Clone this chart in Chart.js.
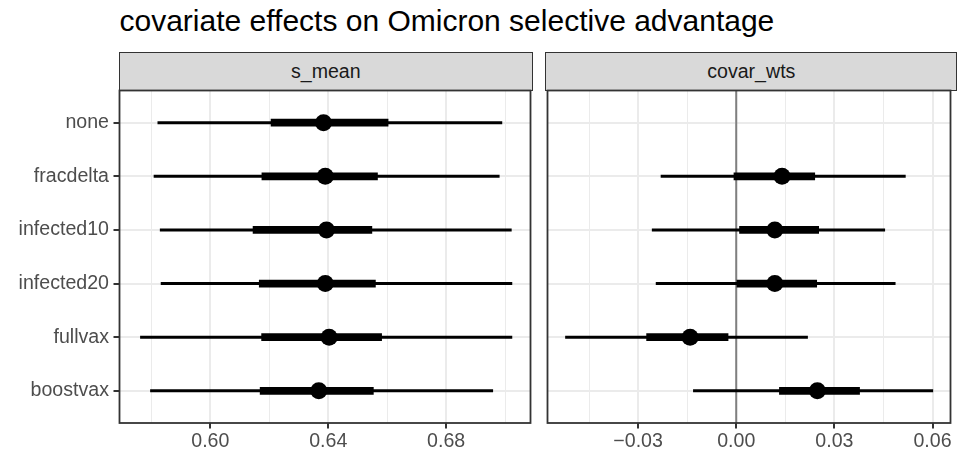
<!DOCTYPE html>
<html>
<head>
<meta charset="utf-8">
<script src="https://cdn.jsdelivr.net/npm/chart.js@4.4.0/dist/chart.umd.min.js"></script>
<style>
    body { margin: 0; background: #fff; font-family: "Liberation Sans", Arial, sans-serif; }
    #wrap { position: relative; width: 959px; height: 454px; overflow: hidden; }
    #titulo { position: absolute; left: 119.5px; top: 5.8px; font-size: 30px; line-height: 1; color: #000; white-space: nowrap; }
    .strip { position: absolute; top: 51.5px; height: 39.5px; background: #d9d9d9; border: 1.5px solid #333; box-sizing: border-box;
             text-align: center; line-height: 36.5px; font-size: 19.6px; color: #1a1a1a; }
    canvas { position: absolute; top: 0; }
</style>
</head>
<body>
<div id="wrap">
    <div id="titulo">covariate effects on Omicron selective advantage</div>
    <div class="strip" style="left:118.8px;width:414px;">s_mean</div>
    <div class="strip" style="left:545.3px;width:412px;">covar_wts</div>
    <canvas id="painelEsq" width="539" height="454" style="left:0"></canvas>
    <canvas id="painelDir" width="420" height="454" style="left:539px"></canvas>
</div>
<script>
// dados
const categorias = ['none', 'fracdelta', 'infected10', 'infected20', 'fullvax', 'boostvax'];

// painel s_mean
const sMeanLo  = [0.5822, 0.5809, 0.5830, 0.5833, 0.5763, 0.5797];
const sMeanQ1  = [0.6206, 0.6175, 0.6145, 0.6166, 0.6174, 0.6169];
const sMeanMed = [0.6384, 0.6390, 0.6394, 0.6390, 0.6403, 0.6368];
const sMeanQ3  = [0.6603, 0.6567, 0.6548, 0.6560, 0.6581, 0.6553];
const sMeanHi  = [0.6989, 0.6980, 0.7021, 0.7023, 0.7023, 0.6958];

// painel covar_wts ('none' nao tem valor)
const covLo  = [null, -0.0230, -0.0257, -0.0245, -0.0522, -0.0131];
const covQ1  = [null, -0.0007,  0.0010,  0.0002, -0.0274,  0.0132];
const covMed = [null,  0.0140,  0.0118,  0.0118, -0.0141,  0.0248];
const covQ3  = [null,  0.0240,  0.0252,  0.0246, -0.0025,  0.0377];
const covHi  = [null,  0.0517,  0.0454,  0.0486,  0.0218,  0.0601];

// ticks (maiores com rotulo, menores so grade)
const sMeanTicks  = [0.58, 0.60, 0.62, 0.64, 0.66, 0.68, 0.70];
const sMeanLabels = [0.60, 0.64, 0.68];
const covTicks    = [-0.045, -0.03, -0.015, 0, 0.015, 0.03, 0.045, 0.06];
const covLabels   = [-0.03, 0, 0.03, 0.06];
const linhaZero   = 0;

const corTexto = '#4d4d4d';
const fonteEixo = { family: '"Liberation Sans", Arial, sans-serif', size: 19.6 };

function formatarTick(v) {
    const s = Math.abs(v).toFixed(2);
    return v < -1e-9 ? '\u2212' + s : s;
}

// borda do painel (desenhada por cima)
const bordaPainel = {
    id: 'bordaPainel',
    afterDraw(chart) {
        const { ctx, chartArea: { left, top, right, bottom } } = chart;
        ctx.save();
        ctx.strokeStyle = '#333333';
        ctx.lineWidth = 1.8;
        ctx.strokeRect(left, top, right - left, bottom - top);
        ctx.restore();
    }
};

function criarPainel(canvasId, lo, q1, med, q3, hi, xMin, xMax, ticks, rotulos, opcoes) {
    const ehMaior = v => rotulos.some(r => Math.abs(r - v) < 1e-9);

    const linhas = (a, b) => categorias.map((c, i) => a[i] == null ? null : { x: [a[i], b[i]], y: i + 1 }).filter(d => d);
    const pontos = categorias.map((c, i) => med[i] == null ? null : { x: med[i], y: i + 1 }).filter(d => d);

    const plugins = [bordaPainel];
    if (opcoes.refLinha !== undefined) {
        plugins.push({
            id: 'linhaRef_' + canvasId,
            beforeDatasetsDraw(chart) {
                const { ctx, chartArea: { top, bottom } } = chart;
                const px = chart.scales.x.getPixelForValue(opcoes.refLinha);
                ctx.save();
                ctx.strokeStyle = '#7f7f7f';
                ctx.lineWidth = 2;
                ctx.beginPath();
                ctx.moveTo(px, top);
                ctx.lineTo(px, bottom);
                ctx.stroke();
                ctx.restore();
            }
        });
    }

    return new Chart(document.getElementById(canvasId), {
        type: 'bar',
        data: {
            datasets: [
                { type: 'scatter', data: pontos, pointRadius: 8.5, pointHoverRadius: 8.5, backgroundColor: '#000', borderWidth: 0, order: 0 },
                { data: linhas(q1, q3), backgroundColor: '#000', barThickness: 7, grouped: false, borderWidth: 0, order: 1 },
                { data: linhas(lo, hi), backgroundColor: '#000', barThickness: 2.3, grouped: false, borderWidth: 0, order: 2 }
            ]
        },
        options: {
            indexAxis: 'y',
            responsive: false,
            animation: false,
            layout: { padding: opcoes.padding },
            plugins: { legend: { display: false }, tooltip: { enabled: false } },
            scales: {
                x: {
                    type: 'linear',
                    min: xMin,
                    max: xMax,
                    afterBuildTicks: s => { s.ticks = ticks.map(v => ({ value: v })); },
                    afterFit: s => { s.height = 31; s.paddingLeft = 0; s.paddingRight = 0; },
                    border: { display: false },
                    grid: {
                        color: '#ebebeb',
                        lineWidth: ctx => ehMaior(ctx.tick.value) ? 2 : 1,
                        tickColor: ctx => ehMaior(ctx.tick.value) ? '#333333' : 'rgba(0,0,0,0)',
                        tickWidth: 2,
                        tickLength: 5.5
                    },
                    ticks: {
                        autoSkip: false,
                        maxRotation: 0,
                        padding: 1.5,
                        color: corTexto,
                        font: fonteEixo,
                        callback: v => ehMaior(v) ? formatarTick(v) : ''
                    }
                },
                y: {
                    type: 'linear',
                    reverse: true,
                    offset: false,
                    min: 0.4,
                    max: 6.6,
                    afterBuildTicks: s => { s.ticks = categorias.map((c, i) => ({ value: i + 1 })); },
                    afterFit: s => { s.width = opcoes.larguraY; },
                    border: { display: false },
                    grid: {
                        offset: false,
                        color: '#ebebeb',
                        lineWidth: 2,
                        drawTicks: opcoes.mostrarY,
                        tickColor: '#333333',
                        tickWidth: 2,
                        tickLength: 6
                    },
                    ticks: {
                        display: opcoes.mostrarY,
                        padding: 4.5,
                        color: corTexto,
                        font: fonteEixo,
                        callback: v => categorias[Math.round(v) - 1]
                    }
                }
            }
        },
        plugins: plugins
    });
}

criarPainel('painelEsq', sMeanLo, sMeanQ1, sMeanMed, sMeanQ3, sMeanHi, 0.5692, 0.7086, sMeanTicks, sMeanLabels,
    { mostrarY: true, larguraY: 119.5, padding: { top: 90.5, right: 7, left: 0, bottom: 0 } });

criarPainel('painelDir', covLo, covQ1, covMed, covQ3, covHi, -0.0577, 0.0655, covTicks, covLabels,
    { mostrarY: false, larguraY: 0, refLinha: linhaZero, padding: { top: 90.5, right: 2.3, left: 7, bottom: 0 } });
</script>
</body>
</html>
